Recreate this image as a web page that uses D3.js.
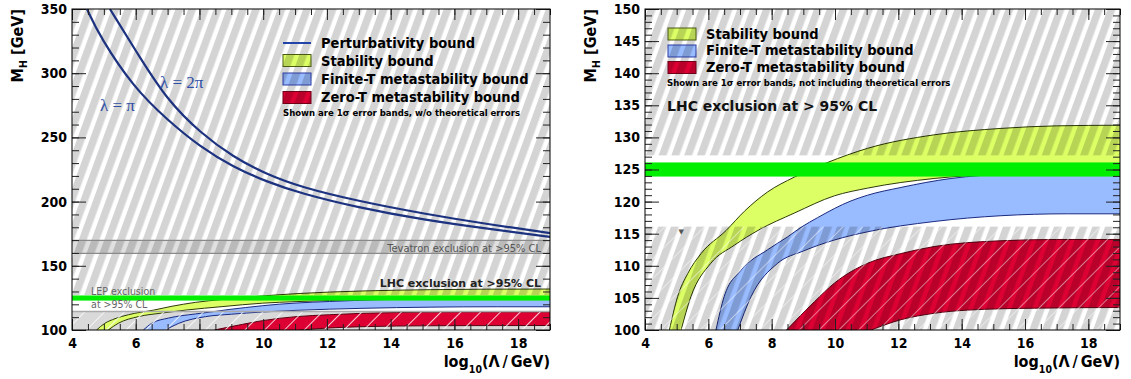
<!DOCTYPE html>
<html>
<head>
<meta charset="utf-8">
<script src="https://cdn.jsdelivr.net/npm/d3@7"></script>
<style>
  body { margin: 0; background: #fff; }
  svg { display: block; }
</style>
</head>
<body>
<svg id="chart" width="1131" height="379"></svg>
<script>
// values: [log10(Lambda/GeV), M_H in GeV]
const stabilityUpper = [[4.77,100],[5.03,105.2],[5.35,108.8],[5.77,111.9],[6.56,115.5],[7.14,118.5],[7.87,121.5],[8.71,123.8],[9.77,126.1],[11.03,128.3],[13.13,130.4],[15.24,131.4],[17,131.8],[19,131.9]]
const stabilityLower = [[5.14,100],[5.45,105.2],[6.08,110.4],[6.82,113.2],[7.6,115.6],[8.71,118.2],[9.98,120.9],[11.03,122.1],[13.13,123.6],[15.24,124.3],[19,124.7]]
const finiteTUpper = [[6.24,100],[6.5,105.2],[7.03,109.3],[7.87,112.5],[8.5,114.5],[8.93,116],[9.45,117.5],[10.5,120.1],[11.03,121],[12.08,122.2],[13.66,123.6],[15.5,124.3],[19,124.6]]
const finiteTLower = [[6.93,100],[7.35,105.2],[8.19,110.4],[9.0,112.3],[9.97,114.0],[11.03,115.3],[13.13,116.9],[15.24,117.8],[17.35,118.1],[19,118.1]]
const zeroTUpper = [[8.47,100],[9.35,104.4],[9.98,107.3],[11.03,110.4],[12.08,111.9],[13.13,113],[15.24,113.9],[17,114.1],[19,114.1]]
const zeroTLower = [[11.14,100],[12.08,101.6],[13.13,102.6],[14.19,103.1],[16.3,103.4],[19,103.5]]

const lambdaPi = [[4.47,350],[4.88,328.2],[5.92,289.3],[6.99,263.6],[8.03,242.5],[9.06,226.9],[10.13,215.3],[11.17,206.5],[12.95,195.5],[15.05,185.7],[17.14,178.5],[19,172.5]]
const lambda2Pi = [[5.19,350],[6.14,311.8],[6.99,279.1],[8.03,253.4],[9.06,234.7],[10.13,221],[11.17,211.4],[12.95,200.5],[15.05,190.5],[17.14,182],[19,175.5]]

const higgsBandLeft = [122.9, 126.9]
const higgsBandRight = [123.9, 126.1]
const lhcExcludedAbove = 127.2
const lepExcludedBelow = 114.4
const lowExcludedBelowRight = 116.1
const tevatronExcluded = [159.7, 169.8]

const legendLeft = ["Perturbativity bound", "Stability bound", "Finite-T metastability bound", "Zero-T metastability bound"]
const legendRight = ["Stability bound", "Finite-T metastability bound", "Zero-T metastability bound"]

const COND = '"DejaVu Sans Condensed", "DejaVu Sans", sans-serif',
      WIDE = '"DejaVu Sans", sans-serif',
      colors = { stab: "#ddff66", stabEdge: "#2e3a08", fin: "#99bbff", finEdge: "#1a2a80", zero: "#dd0033", zeroEdge: "#5a0010" }

const svg = d3.select("#chart")
const defs = svg.append("defs")

defs.append("pattern")
    .attr("id", "hatch")
    .attr("patternUnits", "userSpaceOnUse")
    .attr("width", 12).attr("height", 12)
    .attr("patternTransform", "rotate(20)")
  .append("rect")
    .attr("width", 7.5).attr("height", 12)
    .attr("fill", "#000").attr("fill-opacity", 0.17)

defs.append("pattern")
    .attr("id", "thin")
    .attr("patternUnits", "userSpaceOnUse")
    .attr("width", 14).attr("height", 14)
    .attr("patternTransform", "rotate(45)")
  .append("line")
    .attr("x1", 0.5).attr("x2", 0.5).attr("y1", 0).attr("y2", 14)
    .attr("stroke", "#fff").attr("stroke-width", 1).attr("stroke-opacity", 0.8)

function makePanel(id, x0, x1, yDomain) {
  const x = d3.scaleLinear().domain([4, 19]).range([x0, x1])
  const y = d3.scaleLinear().domain(yDomain).range([330, 9])
  defs.append("clipPath").attr("id", "clip-" + id)
    .append("rect").attr("x", x0).attr("y", 9).attr("width", x1 - x0).attr("height", 321)
  const g = svg.append("g")
  const plot = g.append("g").attr("clip-path", `url(#clip-${id})`)
  return { x, y, g, plot, x0, x1 }
}

function curve(p, kind) {
  return d3.line().x(d => p.x(d[0])).y(d => p.y(d[1])).curve(kind || d3.curveMonotoneX)
}

function drawBand(p, upper, lower, fill, edge) {
  const l = curve(p)
  p.plot.append("path")
    .attr("d", l(upper) + "L" + l(lower.slice().reverse()).slice(1) + "Z")
    .attr("fill", fill)
  ;[upper, lower].forEach(c => {
    p.plot.append("path").attr("d", l(c))
      .attr("fill", "none").attr("stroke", edge).attr("stroke-width", 1)
  })
}

function hband(p, lo, hi, fill) {
  return p.plot.append("rect")
    .attr("x", p.x0).attr("width", p.x1 - p.x0)
    .attr("y", p.y(hi)).attr("height", p.y(lo) - p.y(hi))
    .attr("fill", fill)
}

function drawAxes(p, yMajor, yMinor) {
  const ax = p.g.append("g")
  const [d0, d1] = p.y.domain()
  const xMin = d3.range(4, 19.01, 0.5), xMaj = d3.range(4, 19, 2)
  const yMin = d3.range(d0, d1 + 0.01, yMinor), yMaj = d3.range(d0, d1 + 0.01, yMajor)

  ax.append("g").attr("transform", "translate(0,330)")
    .call(d3.axisBottom(p.x).tickValues(xMin).tickSize(-6).tickFormat(""))
  ax.append("g").attr("transform", "translate(0,330)")
    .call(d3.axisBottom(p.x).tickValues(xMaj).tickSize(-11).tickPadding(8).tickFormat(d3.format("d")))
  ax.append("g").attr("transform", "translate(0,9)")
    .call(d3.axisTop(p.x).tickValues(xMin).tickSize(-6).tickFormat(""))
  ax.append("g").attr("transform", "translate(0,9)")
    .call(d3.axisTop(p.x).tickValues(xMaj).tickSize(-11).tickFormat(""))
  ax.append("g").attr("transform", `translate(${p.x0},0)`)
    .call(d3.axisLeft(p.y).tickValues(yMin).tickSize(-7).tickFormat(""))
  ax.append("g").attr("transform", `translate(${p.x0},0)`)
    .call(d3.axisLeft(p.y).tickValues(yMaj).tickSize(-14).tickPadding(5).tickFormat(d3.format("d")))
  ax.append("g").attr("transform", `translate(${p.x1},0)`)
    .call(d3.axisRight(p.y).tickValues(yMin).tickSize(-7).tickFormat(""))
  ax.append("g").attr("transform", `translate(${p.x1},0)`)
    .call(d3.axisRight(p.y).tickValues(yMaj).tickSize(-14).tickFormat(""))

  ax.selectAll(".domain").remove()
  ax.selectAll(".tick line").attr("stroke", "#222")
  ax.selectAll("text")
    .attr("font-family", COND).attr("font-weight", "bold")
    .attr("font-size", 14).attr("fill", "#000")

  p.g.append("rect")
    .attr("x", p.x0).attr("y", 9).attr("width", p.x1 - p.x0).attr("height", 321)
    .attr("fill", "none").attr("stroke", "#000").attr("stroke-width", 1)

  // axis titles
  const yt = p.g.append("text")
    .attr("transform", `translate(${p.x0 - 49},9) rotate(-90)`)
    .attr("text-anchor", "end")
    .attr("font-family", COND).attr("font-weight", "bold").attr("font-size", 16)
  yt.append("tspan").text("M")
  yt.append("tspan").attr("font-size", 11).attr("dy", 4).text("H")
  yt.append("tspan").attr("dy", -4).text(" [GeV]")

  const xt = p.g.append("text")
    .attr("x", p.x1).attr("y", 367)
    .attr("text-anchor", "end")
    .attr("font-family", COND).attr("font-weight", "bold").attr("font-size", 16)
  xt.append("tspan").text("log")
  xt.append("tspan").attr("font-size", 10.5).attr("dy", 6).text("10")
  xt.append("tspan").attr("dy", -6).text("(\u039b\u2009/\u2009GeV)")
}

function legendBox(g, xPos, yPos, fill, edge) {
  g.append("rect").attr("x", xPos).attr("y", yPos).attr("width", 28).attr("height", 12).attr("fill", fill)
  g.append("rect").attr("x", xPos).attr("y", yPos).attr("width", 28).attr("height", 12)
    .attr("fill", "url(#hatch)").attr("stroke", edge).attr("stroke-width", 1)
}

// ---------- left panel ----------
const L = makePanel("left", 72, 550, [100, 350])

hband(L, 100, lepExcludedBelow, "#d9d9d9")
drawBand(L, stabilityUpper, stabilityLower, colors.stab, colors.stabEdge)
drawBand(L, finiteTUpper, finiteTLower, colors.fin, colors.finEdge)
drawBand(L, zeroTUpper, zeroTLower, colors.zero, colors.zeroEdge)
hband(L, lhcExcludedAbove, 350, "url(#hatch)")
hband(L, tevatronExcluded[0], tevatronExcluded[1], "rgba(0,0,0,0.12)")
;[tevatronExcluded[0], tevatronExcluded[1]].forEach(v => {
  L.plot.append("line").attr("x1", L.x0).attr("x2", L.x1).attr("y1", L.y(v)).attr("y2", L.y(v))
    .attr("stroke", "#8a8a8a").attr("stroke-width", 1.2)
})
hband(L, 100, lepExcludedBelow, "url(#thin)")
L.plot.append("line").attr("x1", L.x0).attr("x2", L.x1)
  .attr("y1", L.y(lepExcludedBelow)).attr("y2", L.y(lepExcludedBelow))
  .attr("stroke", "#aaa").attr("stroke-width", 1.5)

L.g.append("text").attr("x", L.x(4.6)).attr("y", L.y(127.4))
  .attr("font-family", COND).attr("font-size", 10.5).attr("fill", "#666").text("LEP exclusion")
L.g.append("text").attr("x", L.x(4.6)).attr("y", L.y(117.4))
  .attr("font-family", COND).attr("font-size", 10.5).attr("fill", "#666").text("at >95% CL")

hband(L, higgsBandLeft[0], higgsBandLeft[1], "#00ee00")

const lp = curve(L, d3.curveBasis)
;[lambdaPi, lambda2Pi].forEach(c => {
  L.plot.append("path").attr("d", lp(c))
    .attr("fill", "none").attr("stroke", "#1d3380").attr("stroke-width", 2.2)
})
L.g.append("text").attr("x", L.x(4.88)).attr("y", L.y(270.5))
  .attr("font-family", '"Liberation Serif", serif').attr("font-size", 17).attr("fill", "#3050a8").text("\u03bb = \u03c0")
L.g.append("text").attr("x", L.x(6.76)).attr("y", L.y(288.5))
  .attr("font-family", '"Liberation Serif", serif').attr("font-size", 17).attr("fill", "#3050a8").text("\u03bb = 2\u03c0")

L.g.append("text").attr("x", 541).attr("y", 252)
  .attr("text-anchor", "end").attr("font-family", COND).attr("font-size", 11).attr("fill", "#555")
  .text("Tevatron exclusion at >95% CL")
L.g.append("text").attr("x", 541).attr("y", 287)
  .attr("text-anchor", "end").attr("font-family", WIDE).attr("font-weight", "bold").attr("font-size", 11).attr("fill", "#222")
  .text("LHC exclusion at >95% CL")

drawAxes(L, 50, 10)

const legL = L.g.append("g")
legL.append("line").attr("x1", 283).attr("x2", 311).attr("y1", 43).attr("y2", 43)
  .attr("stroke", "#2244aa").attr("stroke-width", 2)
legendBox(legL, 283, 54.5, colors.stab, "#4a5a10")
legendBox(legL, 283, 73, colors.fin, "#2a3aa0")
legendBox(legL, 283, 91.5, colors.zero, "#700018")
legL.selectAll("text.lab").data(legendLeft).enter().append("text")
  .attr("class", "lab")
  .attr("x", 321).attr("y", (d, i) => 47.5 + i * 18.2)
  .attr("font-family", COND).attr("font-weight", "bold").attr("font-size", 14.5).attr("fill", "#000")
  .text(d => d)
legL.append("text").attr("x", 283).attr("y", 116)
  .attr("font-family", COND).attr("font-weight", "bold").attr("font-size", 9.5).attr("fill", "#000")
  .text("Shown are 1\u03c3 error bands, w/o theoretical errors")

// ---------- right panel ----------
const R = makePanel("right", 645, 1120, [100, 150])

drawBand(R, stabilityUpper, stabilityLower, colors.stab, colors.stabEdge)
drawBand(R, finiteTUpper, finiteTLower, colors.fin, colors.finEdge)
drawBand(R, zeroTUpper, zeroTLower, colors.zero, colors.zeroEdge)
hband(R, lhcExcludedAbove, 150, "url(#hatch)")
hband(R, 100, lowExcludedBelowRight, "url(#hatch)")
hband(R, 100, lowExcludedBelowRight, "url(#thin)").attr("opacity", 0.6)
hband(R, higgsBandRight[0], higgsBandRight[1], "#00ee00")
R.g.append("text").attr("x", R.x(5.14)).attr("y", R.y(114.9))
  .attr("text-anchor", "middle").attr("font-family", WIDE).attr("font-size", 7).attr("fill", "#555").text("\u25bc")

drawAxes(R, 5, 1)

const legR = R.g.append("g")
legendBox(legR, 668, 28, colors.stab, "#4a5a10")
legendBox(legR, 668, 45, colors.fin, "#2a3aa0")
legendBox(legR, 668, 61.5, colors.zero, "#700018")
legR.selectAll("text.lab").data(legendRight).enter().append("text")
  .attr("class", "lab")
  .attr("x", 706).attr("y", (d, i) => 38.5 + i * 16.6)
  .attr("font-family", COND).attr("font-weight", "bold").attr("font-size", 14.5).attr("fill", "#000")
  .text(d => d)
legR.append("text").attr("x", 667).attr("y", 86)
  .attr("font-family", COND).attr("font-weight", "bold").attr("font-size", 9.5).attr("fill", "#000")
  .text("Shown are 1\u03c3 error bands, not including theoretical errors")
legR.append("text").attr("x", 667).attr("y", 110.5)
  .attr("font-family", WIDE).attr("font-weight", "bold").attr("font-size", 14).attr("fill", "#111")
  .text("LHC exclusion at > 95% CL")
</script>
</body>
</html>
